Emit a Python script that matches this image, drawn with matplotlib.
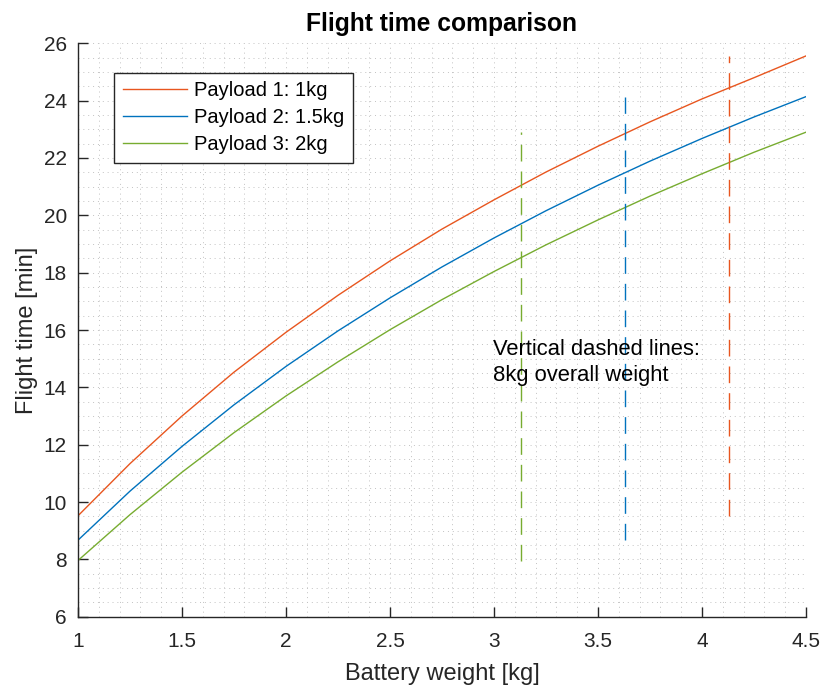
import matplotlib
matplotlib.use("Agg")
import matplotlib.pyplot as plt
from matplotlib.ticker import MultipleLocator, FuncFormatter

# ---- data ----
battery_kg = [1.0, 1.25, 1.5, 1.75, 2.0, 2.25, 2.5, 2.75, 3.0, 3.25, 3.5, 3.75, 4.0, 4.25, 4.5]
payload1 = [9.52, 11.34, 13.00, 14.53, 15.92, 17.21, 18.41, 19.52, 20.54, 21.51, 22.41, 23.26, 24.06, 24.80, 25.56]
payload2 = [8.67, 10.38, 11.94, 13.39, 14.73, 15.97, 17.12, 18.20, 19.21, 20.16, 21.05, 21.89, 22.68, 23.43, 24.14]
payload3 = [7.96, 9.56, 11.04, 12.42, 13.70, 14.89, 16.01, 17.06, 18.04, 18.97, 19.84, 20.67, 21.45, 22.20, 22.90]
labels = ["Payload 1: 1kg", "Payload 2: 1.5kg", "Payload 3: 2kg"]
limit_battery = [4.13, 3.63, 3.13]   # battery weight giving 8 kg overall weight
colors = ["#E8561F", "#0072BD", "#77AC30"]

series = [payload1, payload2, payload3]

plt.rcParams['font.family'] = ['Liberation Sans', 'DejaVu Sans']
fig = plt.figure(figsize=(8.22, 6.93), dpi=100)
ax = fig.add_axes([0.0949, 0.1101, 0.8856, 0.8274])

for ys, lab, c in zip(series, labels, colors):
    ax.plot(battery_kg, ys, color=c, lw=1.0, label=lab)

for xb, ys, c in zip(limit_battery, series, colors):
    ax.plot([xb, xb], [min(ys), max(ys)], color=c, lw=1.0,
            dashes=(12, 7.2))

ax.set_xlim(1, 4.5)
ax.set_ylim(6, 26)
ax.xaxis.set_major_locator(MultipleLocator(0.5))
ax.yaxis.set_major_locator(MultipleLocator(2))
ax.xaxis.set_minor_locator(MultipleLocator(0.1))
ax.yaxis.set_minor_locator(MultipleLocator(0.5))
ax.xaxis.set_major_formatter(FuncFormatter(lambda v, p: f"{v:g}"))
ax.yaxis.set_major_formatter(FuncFormatter(lambda v, p: f"{v:g}"))

ax.grid(True, which='both', color='#c2c2c2', lw=0.7, ls=(0, (1, 4)))
ax.set_axisbelow(True)

for s in ['top', 'right']:
    ax.spines[s].set_visible(False)
for s in ['left', 'bottom']:
    ax.spines[s].set_color('#262626')
    ax.spines[s].set_linewidth(1.0)

ax.tick_params(which='major', direction='in', length=7, width=1.0,
               colors='#262626', labelsize=15)
ax.tick_params(axis='x', which='major', pad=11)
ax.tick_params(axis='y', which='major', pad=8)
ax.tick_params(which='minor', length=0)

ax.set_xlabel("Battery weight [kg]", fontsize=17, color='#262626', labelpad=9)
ax.set_ylabel("Flight time [min]", fontsize=17, color='#262626', labelpad=4)
ax.set_title("Flight time comparison", fontsize=17.7, fontweight='bold', pad=9)

ax.text(2.995, 15.70, "Vertical dashed lines:\n8kg overall weight", fontsize=15.8,
        va='top', ha='left', color='black', linespacing=1.33)

leg = ax.legend(loc='upper left', bbox_to_anchor=(0.0495, 0.9487), fontsize=14.5,
                handlelength=3.2, handletextpad=0.35, labelspacing=0.4,
                borderpad=0.42, borderaxespad=0, fancybox=False, framealpha=1,
                edgecolor='#262626')
leg.get_frame().set_linewidth(1.0)

fig.savefig("out.png", dpi=100)
